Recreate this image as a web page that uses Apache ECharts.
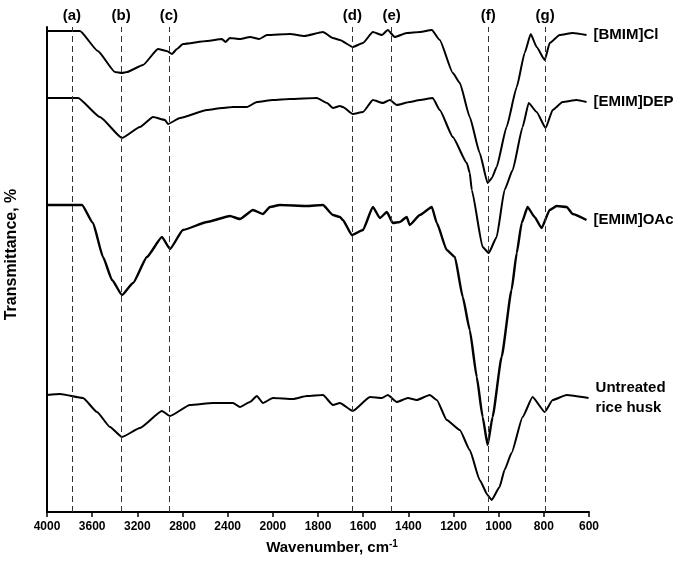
<!DOCTYPE html>
<html><head><meta charset="utf-8">
<script src="https://cdn.jsdelivr.net/npm/echarts@6/dist/echarts.min.js"></script>
<style>html,body{margin:0;padding:0;background:#fff}#c{width:685px;height:569px}</style>
</head><body><div id="c"></div>
<script>
// Tick labels of the split wavenumber axis (equal spacing between ticks)
const tickLabels = [4000, 3600, 3200, 2800, 2400, 2000, 1800, 1600, 1400, 1200, 1000, 800, 600];

// Peak markers
const peakWavenumbers = [3780, 3345, 2920, 1648, 1475, 1046, 794];
const peakLabels = ['(a)', '(b)', '(c)', '(d)', '(e)', '(f)', '(g)'];

// Series names
const seriesNames = ['[BMIM]Cl', '[EMIM]DEP', '[EMIM]OAc', 'Untreated\nrice husk'];

// [BMIM]Cl
const bmimW = [4000,3708,3550,3398,3336,3292,3150,3017,2940,2893,2850,2796,2583,2450,2420,2380,2291,2200,2120,2052,1924,1860,1778,1734,1703,1646,1601,1557,1517,1491,1460,1407,1349,1296,1261,1203,1172,1128,1084,1049,1030,1009,965,920,885,858,832,796,774,730,672,611];
const bmimT = [481,481,461,440,439,440,447,463,461,458,463,468,471,473,470,474,473,475,473,477,478,476,480,474,472,465,469,480,477,482,475,479,480,482,472,439,429,395,359,329,334,345,385,425,459,478,465,452,469,477,479,477];

// [EMIM]DEP
const depW = [4000,3725,3531,3336,3177,3061,2955,2929,2822,2583,2450,2353,2229,2141,2000,1924,1805,1760,1734,1703,1690,1646,1601,1557,1513,1482,1451,1394,1349,1292,1261,1203,1141,1128,1119,1071,1044,1009,974,938,894,867,832,792,761,717,655,611];
const depT = [414,414,395,374,385,395,392,388,394,402,404,405,405,410,412,413,414,409,404,406,405,398,400,412,409,412,407,410,412,414,402,375,349,339,322,265,259,275,322,342,385,409,400,384,402,410,412,410];

// [EMIM]OAc
const oacW = [4000,3690,3593,3504,3424,3336,3238,3115,2982,2911,2796,2583,2380,2291,2176,2088,2026,1969,1849,1778,1734,1703,1690,1650,1601,1557,1526,1495,1469,1438,1407,1394,1349,1296,1274,1230,1194,1159,1128,1097,1071,1049,1027,987,943,920,898,872,841,810,774,743,699,672,611];
const oacT = [307,307,289,255,232,217,229,255,275,263,282,290,296,293,302,298,305,307,306,307,297,295,292,277,282,305,294,300,289,290,295,287,297,305,289,262,255,215,182,135,95,67,95,155,222,259,289,305,295,284,302,306,305,298,292];

// Untreated rice husk
const rawW = [4000,3885,3681,3557,3442,3336,3177,2982,2911,2734,2530,2353,2291,2203,2141,2088,2000,1911,1849,1778,1734,1703,1646,1570,1517,1491,1451,1402,1363,1305,1274,1230,1172,1128,1084,1049,1031,996,974,943,894,850,796,761,699,602];
const rawT = [117,118,114,100,85,75,84,101,96,107,109,109,105,110,116,109,114,113,116,117,107,109,101,115,114,117,110,114,112,117,112,92,82,62,32,17,12,25,42,59,95,115,100,112,117,114];

// Map a wavenumber to its position on the equally spaced split axis
function axisPos(w) {
  for (let i = 0; i < tickLabels.length - 1; i++) {
    const a = tickLabels[i], b = tickLabels[i + 1];
    if (w <= a && w >= b) return i + (a - w) / (a - b);
  }
  return w > tickLabels[0] ? 0 : tickLabels.length - 1;
}
function pairs(ws, ts) { return ws.map((w, i) => [axisPos(w), ts[i]]); }

const FONT = '"Liberation Sans", Arial, sans-serif';
const seriesData = [[bmimW, bmimT, 2], [depW, depT, 2], [oacW, oacT, 2.4], [rawW, rawT, 2]];

const series = seriesData.map((s, k) => ({
  type: 'line',
  name: seriesNames[k],
  data: pairs(s[0], s[1]),
  showSymbol: false,
  symbol: 'none',
  smooth: 0.15,
  smoothMonotone: 'x',
  clip: false,
  lineStyle: { color: '#000', width: s[2] },
  endLabel: {
    show: true, formatter: seriesNames[k], color: '#000', fontFamily: FONT,
    fontWeight: 'bold', fontSize: 15, lineHeight: 20, distance: 7
  },
  z: 3
}));

series.push({
  type: 'line', data: [], silent: true,
  markLine: {
    silent: true, symbol: 'none', animation: false,
    lineStyle: { color: '#333', type: [6, 4], width: 1 },
    label: {
      show: true, position: 'end', distance: 4, color: '#000', fontFamily: FONT,
      fontWeight: 'bold', fontSize: 15
    },
    data: peakWavenumbers.map((w, i) => ({ xAxis: axisPos(w), label: { formatter: peakLabels[i] } }))
  },
  z: 1
});

const chart = echarts.init(document.getElementById('c'), null, { renderer: 'canvas' });
chart.setOption({
  animation: false,
  backgroundColor: '#fff',
  grid: { left: 47, right: 96, top: 27, bottom: 57, containLabel: false, outerBoundsMode: 'none' },
  xAxis: {
    type: 'value', min: 0, max: tickLabels.length - 1, interval: 1,
    axisLine: { show: true, lineStyle: { color: '#000', width: 2 } },
    axisTick: { show: true, length: 5, lineStyle: { color: '#000', width: 1.5 } },
    axisLabel: {
      formatter: v => String(tickLabels[Math.round(v)]), color: '#000',
      fontFamily: FONT, fontWeight: 'bold', fontSize: 12, margin: 9
    },
    splitLine: { show: false },
    name: 'Wavenumber, cm{sup|-1}',
    nameLocation: 'middle', nameGap: 27,
    nameTextStyle: {
      color: '#000', fontFamily: FONT, fontWeight: 'bold', fontSize: 15, padding: [0, 0, 0, 28],
      rich: { sup: { fontSize: 10, fontWeight: 'bold', fontFamily: FONT, color: '#000', verticalAlign: 'top', padding: [0, 0, 8, 0] } }
    }
  },
  yAxis: {
    type: 'value', min: 0, max: 485,
    axisLine: { show: true, lineStyle: { color: '#000', width: 2 } },
    axisTick: { show: false }, axisLabel: { show: false }, splitLine: { show: false },
    name: 'Transmittance, %', nameLocation: 'middle', nameGap: 27, nameRotate: 90,
    nameTextStyle: { color: '#000', fontFamily: FONT, fontWeight: 'bold', fontSize: 16, padding: [0, 0, 0, 30] }
  },
  series: series
});
</script></body></html>
